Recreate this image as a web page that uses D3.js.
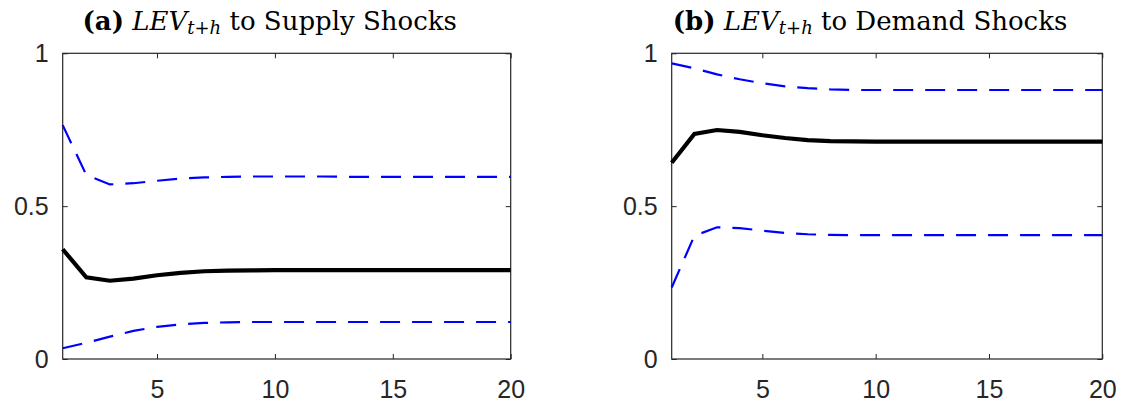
<!DOCTYPE html>
<html>
<head>
<meta charset="utf-8">
<script src="https://cdn.jsdelivr.net/npm/d3@7"></script>
<style>
  html, body { margin: 0; padding: 0; background: #fff; }
  svg { display: block; }
</style>
</head>
<body>
<svg id="chart" width="1144" height="404"></svg>
<script>
// ---- data ----
const horizons = [1,2,3,4,5,6,7,8,9,10,11,12,13,14,15,16,17,18,19,20];
const xTicks = [5, 10, 15, 20];
const yTicks = [0, 0.5, 1];
const yTickLabels = ["0", "0.5", "1"];

const supplyMedian = [0.359,0.267,0.256,0.263,0.274,0.282,0.287,0.289,0.290,0.291,0.291,0.291,0.291,0.291,0.291,0.291,0.291,0.291,0.291,0.291];
const supplyUpper  = [0.765,0.602,0.571,0.575,0.583,0.590,0.594,0.596,0.597,0.597,0.597,0.597,0.596,0.596,0.596,0.596,0.596,0.596,0.596,0.596];
const supplyLower  = [0.035,0.053,0.073,0.092,0.105,0.113,0.118,0.120,0.121,0.121,0.121,0.121,0.121,0.121,0.121,0.121,0.121,0.121,0.121,0.121];

const demandMedian = [0.642,0.736,0.749,0.743,0.732,0.723,0.716,0.713,0.712,0.711,0.711,0.711,0.711,0.711,0.711,0.711,0.711,0.711,0.711,0.711];
const demandUpper  = [0.967,0.951,0.931,0.915,0.902,0.892,0.886,0.882,0.880,0.880,0.880,0.880,0.880,0.880,0.880,0.880,0.880,0.880,0.880,0.880];
const demandLower  = [0.234,0.403,0.431,0.428,0.420,0.412,0.408,0.406,0.405,0.405,0.405,0.405,0.405,0.405,0.405,0.405,0.405,0.405,0.405,0.405];

const panels = [
  { tag: "(a)", rest: " to Supply Shocks", median: supplyMedian, upper: supplyUpper, lower: supplyLower, left: 62.7, right: 510.7 },
  { tag: "(b)", rest: " to Demand Shocks", median: demandMedian, upper: demandUpper, lower: demandLower, left: 671.7, right: 1102.3 }
];

const plotTop = 53.3, plotBottom = 359;
const svg = d3.select("#chart");
const axisColor = "#262626";
const tickFont = "'Liberation Sans', Arial, Helvetica, sans-serif";

panels.forEach(p => {
  const x = d3.scaleLinear().domain([1, 20]).range([p.left, p.right]);
  const y = d3.scaleLinear().domain([0, 1]).range([plotBottom, plotTop]);
  const g = svg.append("g");

  const xb = g.append("g").attr("transform", `translate(0,${plotBottom})`)
    .call(d3.axisBottom(x).tickValues(xTicks).tickFormat(d3.format("d")).tickSizeInner(-5).tickSizeOuter(0).tickPadding(21));
  const xt = g.append("g").attr("transform", `translate(0,${plotTop})`)
    .call(d3.axisTop(x).tickValues(xTicks).tickFormat("").tickSizeInner(-5).tickSizeOuter(0));
  const yl = g.append("g").attr("transform", `translate(${p.left},0)`)
    .call(d3.axisLeft(y).tickValues(yTicks).tickFormat((d, i) => yTickLabels[i]).tickSizeInner(-5).tickSizeOuter(0).tickPadding(14));
  const yr = g.append("g").attr("transform", `translate(${p.right},0)`)
    .call(d3.axisRight(y).tickValues(yTicks).tickFormat("").tickSizeInner(-5).tickSizeOuter(0));

  [xb, xt, yl, yr].forEach(a => {
    a.select(".domain").remove();
    a.selectAll("line").attr("stroke", axisColor).attr("stroke-width", 1);
    a.selectAll("text").attr("fill", axisColor).style("font-family", tickFont).style("font-size", "25px");
  });

  g.append("rect")
    .attr("x", p.left).attr("y", plotTop)
    .attr("width", p.right - p.left).attr("height", plotBottom - plotTop)
    .attr("fill", "none").attr("stroke", axisColor).attr("stroke-width", 1.2);

  const line = d3.line().x((d, i) => x(horizons[i])).y(d => y(d));

  g.append("path").datum(p.upper).attr("d", line)
    .attr("fill", "none").attr("stroke", "#0000ff").attr("stroke-width", 2.2)
    .attr("stroke-dasharray", "20,12");
  g.append("path").datum(p.lower).attr("d", line)
    .attr("fill", "none").attr("stroke", "#0000ff").attr("stroke-width", 2.2)
    .attr("stroke-dasharray", "20,12");
  g.append("path").datum(p.median).attr("d", line)
    .attr("fill", "none").attr("stroke", "#000").attr("stroke-width", 4.2)
    .attr("stroke-linejoin", "miter");

  const cx = (p.left + p.right) / 2 - 17;
  const t = g.append("text").attr("x", cx).attr("y", 30)
    .attr("text-anchor", "middle")
    .style("font-family", "'DejaVu Serif', 'Liberation Serif', serif")
    .style("font-size", "26px").attr("fill", "#000");
  t.append("tspan").style("font-weight", "bold").text(p.tag);
  t.append("tspan").text(" ");
  t.append("tspan").style("font-style", "italic").text("LEV");
  t.append("tspan").style("font-style", "italic").style("font-size", "18px").attr("dy", 4).text("t+h");
  t.append("tspan").attr("dy", -4).text(p.rest);
});
</script>
</body>
</html>
